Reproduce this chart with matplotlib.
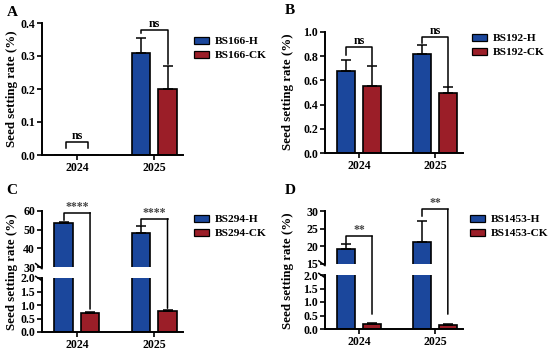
import matplotlib
matplotlib.use('Agg')
import matplotlib.pyplot as plt
import numpy as np
from matplotlib.patches import Patch, ConnectionPatch

plt.rcParams['font.family'] = 'Liberation Serif'
plt.rcParams['font.weight'] = 'bold'
plt.rcParams['axes.linewidth'] = 1.4

years = ['2024', '2025']

# A - BS166
a_h = [0.0, 0.31]
a_h_err = [0.0, 0.045]
a_ck = [0.0, 0.20]
a_ck_err = [0.0, 0.07]
a_sig = ['ns', 'ns']

# B - BS192
b_h = [0.675, 0.818]
b_h_err = [0.095, 0.077]
b_ck = [0.556, 0.496]
b_ck_err = [0.164, 0.049]
b_sig = ['ns', 'ns']

# C - BS294
c_h = [53.7, 48.4]
c_h_err = [0.5, 3.5]
c_ck = [0.69, 0.77]
c_ck_err = [0.05, 0.04]
c_sig = ['****', '****']

# D - BS1453
d_h = [19.3, 21.2]
d_h_err = [1.4, 6.1]
d_ck = [0.18, 0.13]
d_ck_err = [0.04, 0.04]
d_sig = ['**', '**']

blue = '#1b479c'
red = '#9b1e28'
off = 0.17
w = 0.24
x = np.arange(len(years))
FS = 8.6      # tick labels
LFS = 8.2     # legend
YFS = 9.3     # y label


def draw_bars(ax, h, he, ck, ce):
    h = np.array(h); he = np.array(he); ck = np.array(ck); ce = np.array(ce)
    ax.bar(x - off, h, w, color=blue, edgecolor='black', linewidth=1.2)
    ax.bar(x + off, ck, w, color=red, edgecolor='black', linewidth=1.2)
    m = h > 0
    ax.errorbar((x - off)[m], h[m], yerr=[np.zeros(m.sum()), he[m]], fmt='none',
                ecolor='black', elinewidth=1.1, capsize=3.5, capthick=1.1)
    m = ck > 0
    ax.errorbar((x + off)[m], ck[m], yerr=[np.zeros(m.sum()), ce[m]], fmt='none',
                ecolor='black', elinewidth=1.1, capsize=3.5, capthick=1.1)


def style(ax):
    ax.spines['top'].set_visible(False)
    ax.spines['right'].set_visible(False)
    ax.tick_params(direction='out', length=3.5, width=1.2, labelsize=FS, pad=1.5)
    ax.set_xlim(-0.45, 1.37)
    for t in ax.get_xticklabels() + ax.get_yticklabels():
        t.set_fontweight('bold')


def bracket(ax, i, top, left, right, text, fs=FS, color='black', dx=off):
    ax.plot([i - dx, i - dx, i + dx, i + dx], [left, top, top, right],
            color='black', lw=1.1, clip_on=False)
    ax.text(i, top, text, ha='center', va='bottom', fontsize=fs, color=color,
            fontweight='bold' if text == 'ns' else 'normal')


def legend(labels, px, py):
    handles = [Patch(facecolor=blue, edgecolor='black', linewidth=0.9),
               Patch(facecolor=red, edgecolor='black', linewidth=0.9)]
    fig.legend(handles, labels, loc='upper left', bbox_to_anchor=(px / 550, 1 - py / 351),
               frameon=False, borderpad=0, borderaxespad=0, handlelength=1.35,
               handleheight=0.55, handletextpad=0.45, labelspacing=0.4,
               prop={'family': 'Liberation Serif', 'weight': 'bold', 'size': LFS})


def ylabel(px, py):
    fig.text(px / 550, 1 - py / 351, 'Seed setting rate (%)', rotation=90,
             ha='center', va='center', fontsize=YFS, fontweight='bold')


fig = plt.figure(figsize=(5.5, 3.51), dpi=100)

# ---- A ----
axA = fig.add_axes([42 / 550, 1 - 155 / 351, 141 / 550, 132 / 351])
draw_bars(axA, a_h, a_h_err, a_ck, a_ck_err)
axA.set_ylim(0, 0.4)
axA.set_yticks([0.0, 0.1, 0.2, 0.3, 0.4])
axA.set_yticklabels(['0.0', '0.1', '0.2', '0.3', '0.4'])
axA.set_xticks(x)
axA.set_xticklabels(years)
style(axA)
bracket(axA, 0, 0.04, 0.02, 0.02, a_sig[0], dx=0.14)
bracket(axA, 1, 0.38, 0.37, 0.275, a_sig[1])
legend(['BS166-H', 'BS166-CK'], 194, 37)
ylabel(12, 89)
fig.text(12 / 550, 1 - 12 / 351, 'A', fontsize=11, fontweight='bold', ha='center', va='center')

# ---- B ----
axB = fig.add_axes([325 / 550, 1 - 153 / 351, 138 / 550, 121 / 351])
draw_bars(axB, b_h, b_h_err, b_ck, b_ck_err)
axB.set_ylim(0, 1.0)
axB.set_yticks(np.arange(0, 1.01, 0.2))
axB.set_yticklabels(['0.0', '0.2', '0.4', '0.6', '0.8', '1.0'])
axB.set_xticks(x)
axB.set_xticklabels(years)
style(axB)
bracket(axB, 0, 0.876, 0.81, 0.725, b_sig[0])
bracket(axB, 1, 0.96, 0.91, 0.545, b_sig[1])
legend(['BS192-H', 'BS192-CK'], 472, 34)
ylabel(288, 92)
fig.text(290 / 550, 1 - 11 / 351, 'B', fontsize=11, fontweight='bold', ha='center', va='center')


def broken(left, width, up_top, up_bot, lo_top, lo_bot, up_lim, up_ticks, h, he, ck, ce):
    up = fig.add_axes([left / 550, 1 - up_bot / 351, width / 550, (up_bot - up_top) / 351])
    lo = fig.add_axes([left / 550, 1 - lo_bot / 351, width / 550, (lo_bot - lo_top) / 351])
    for ax in (up, lo):
        draw_bars(ax, h, he, ck, ce)
    up.set_ylim(*up_lim)
    up.set_yticks(up_ticks)
    up.set_xticks([])
    up.spines['bottom'].set_visible(False)
    lo.set_ylim(0, 2.0)
    lo.set_yticks([0.0, 0.5, 1.0, 1.5, 2.0])
    lo.set_yticklabels(['0.0', '0.5', '1.0', '1.5', '2.0'])
    lo.set_xticks(x)
    lo.set_xticklabels(years)
    style(up)
    style(lo)
    kw = dict(color='black', lw=1.1, clip_on=False)
    up.plot([-0.045, 0.0], [0.06, -0.03], transform=up.transAxes, **kw)
    lo.plot([-0.045, 0.0], [1.03, 0.95], transform=lo.transAxes, **kw)
    return up, lo


def cross_bracket(up, lo, i, top, left, right, text, fs=8.5):
    up.plot([i - off, i - off, i + off], [left, top, top], color='black', lw=1.1, clip_on=False)
    con = ConnectionPatch(xyA=(i + off, top), coordsA=up.transData,
                          xyB=(i + off, right), coordsB=lo.transData,
                          color='black', lw=1.1)
    fig.add_artist(con)
    up.text(i, top, text, ha='center', va='bottom', fontsize=fs, color='#444444')


# ---- C ----
axC1, axC2 = broken(42, 141, 211, 267, 278, 332, (30, 60), [30, 40, 50, 60],
                    c_h, c_h_err, c_ck, c_ck_err)
cross_bracket(axC1, axC2, 0, 59.1, 55.0, 0.85, c_sig[0])
cross_bracket(axC1, axC2, 1, 55.8, 52.6, 0.88, c_sig[1])
legend(['BS294-H', 'BS294-CK'], 194, 215)
ylabel(12, 272)
fig.text(12 / 550, 1 - 190 / 351, 'C', fontsize=11, fontweight='bold', ha='center', va='center')

# ---- D ----
axD1, axD2 = broken(325, 138, 211, 264, 275, 329, (15, 30), [15, 20, 25, 30],
                    d_h, d_h_err, d_ck, d_ck_err)
cross_bracket(axD1, axD2, 0, 22.9, 20.9, 0.55, d_sig[0])
cross_bracket(axD1, axD2, 1, 30.5, 28.6, 0.55, d_sig[1])
legend(['BS1453-H', 'BS1453-CK'], 470, 215)
ylabel(288, 271)
fig.text(290 / 550, 1 - 190 / 351, 'D', fontsize=11, fontweight='bold', ha='center', va='center')

fig.savefig('out.png', dpi=100)
